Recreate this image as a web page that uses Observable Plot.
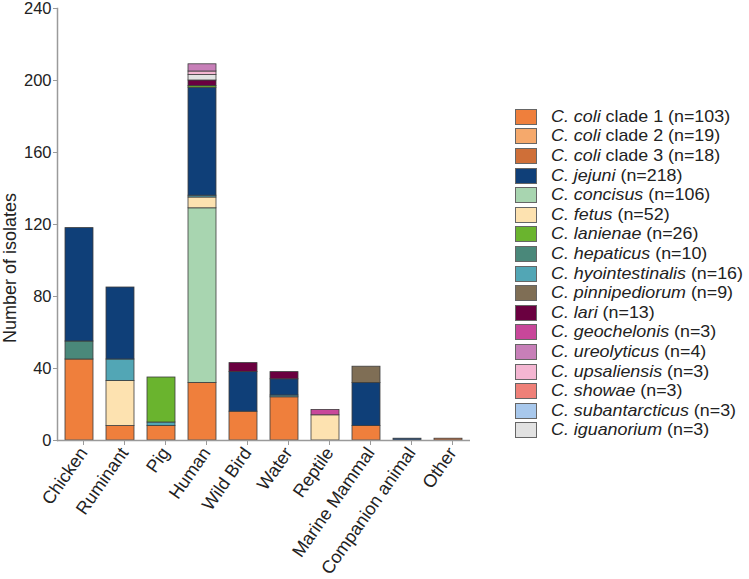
<!DOCTYPE html>
<html><head><meta charset="utf-8">
<script src="https://cdn.jsdelivr.net/npm/d3@7"></script>
<script src="https://cdn.jsdelivr.net/npm/@observablehq/plot@0.6"></script>
<style>
body{margin:0;background:#fff;font-family:"Liberation Sans",Arial,sans-serif;}
#wrap{position:relative;width:749px;height:579px;overflow:hidden;}
#chart{position:absolute;left:0;top:0;}
#legend{position:absolute;left:515px;top:107px;font-size:17px;color:#222;}
.row{display:flex;align-items:center;height:19.6px;white-space:nowrap;}
.sw{width:22px;height:16px;border:1px solid #666;box-sizing:border-box;margin-right:14px;flex:none;}
.lt{display:inline-block;transform:scaleX(1.05);transform-origin:0 50%;}
#ylab{position:absolute;left:10px;top:268px;transform:translate(-50%,-50%) rotate(-90deg);font-size:18px;color:#222;white-space:nowrap;}
</style></head>
<body>
<div id="wrap"><div id="chart"></div><div id="legend"></div><div id="ylab">Number of isolates</div></div>
<script>
const sources = ["Chicken","Ruminant","Pig","Human","Wild Bird","Water","Reptile","Marine Mammal","Companion animal","Other"];
const yTicks = [0,40,80,120,160,200,240];

// legend order
const speciesNames = ["C. coli clade 1","C. coli clade 2","C. coli clade 3","C. jejuni","C. concisus","C. fetus","C. lanienae","C. hepaticus","C. hyointestinalis","C. pinnipediorum","C. lari","C. geochelonis","C. ureolyticus","C. upsaliensis","C. showae","C. subantarcticus","C. iguanorium"];
const speciesCounts = [103,19,18,218,106,52,26,10,16,9,13,3,4,3,3,3,3];
const speciesColors = ["#ef7f3c","#f5a96c","#cf6f38","#0f3f78","#a8d5b0","#fde2b0","#6ab42e","#4a887a","#52a6b5","#7f6e55","#6a0040","#c8479a","#c77fb8","#f4b6d2","#ef8078","#a8c8ec","#e2e2e2"];

// values per source (same order as sources)
const coli1          = [45, 8, 8, 32, 16, 24, 0, 8, 0, 0];
const coli2          = [0, 0, 0, 0, 0, 0, 0, 0, 0, 0];
const coli3          = [0, 0, 0, 0, 0, 0, 0, 0, 0, 1];
const concisus       = [0, 0, 0, 97, 0, 0, 0, 0, 0, 0];
const fetus          = [0, 25, 0, 6, 0, 0, 14, 0, 0, 0];
const hepaticus      = [10, 0, 0, 0, 0, 0, 0, 0, 0, 0];
const hyointestinalis= [0, 12, 2, 1, 0, 1, 0, 0, 0, 0];
const jejuni         = [63, 40, 0, 60, 22, 9, 0, 24, 1, 0];
const lanienae       = [0, 0, 25, 1, 0, 0, 0, 0, 0, 0];
const lari           = [0, 0, 0, 3, 5, 4, 0, 0, 0, 0];
const pinnipediorum  = [0, 0, 0, 0, 0, 0, 0, 9, 0, 0];
const geochelonis    = [0, 0, 0, 0, 0, 0, 3, 0, 0, 0];
const iguanorium     = [0, 0, 0, 3, 0, 0, 0, 0, 0, 0];
const upsaliensis    = [0, 0, 0, 2, 0, 0, 0, 0, 0, 0];
const ureolyticus    = [0, 0, 0, 4, 0, 0, 0, 0, 0, 0];

// stacking order (bottom to top)
const stackSeries = [
  ["C. coli clade 1", coli1], ["C. coli clade 2", coli2], ["C. coli clade 3", coli3],
  ["C. concisus", concisus], ["C. fetus", fetus], ["C. hepaticus", hepaticus],
  ["C. hyointestinalis", hyointestinalis], ["C. jejuni", jejuni], ["C. lanienae", lanienae],
  ["C. lari", lari], ["C. pinnipediorum", pinnipediorum], ["C. geochelonis", geochelonis],
  ["C. iguanorium", iguanorium], ["C. upsaliensis", upsaliensis], ["C. ureolyticus", ureolyticus]
];
const rows = [];
for (const [name, vals] of stackSeries) {
  vals.forEach((v, i) => { if (v > 0) rows.push({source: sources[i], species: name, value: v}); });
}

const plot = Plot.plot({
  width: 480, height: 579,
  marginLeft: 57, marginRight: 10, marginTop: 8, marginBottom: 139,
  style: {fontFamily: '"Liberation Sans", Arial, sans-serif', fontSize: "16px", color: "#222", background: "transparent"},
  x: {domain: sources, paddingInner: 0.32, paddingOuter: 0.17, label: null},
  y: {domain: [0, 240], label: null},
  color: {domain: speciesNames, range: speciesColors},
  marks: [
    Plot.barY(rows, {x: "source", y: "value", fill: "species", stroke: "#3c3c3c", strokeWidth: 0.8}),
    Plot.frame({anchor: "left", stroke: "#9a9a9a", strokeWidth: 1.5}),
    Plot.ruleY([0], {stroke: "#9a9a9a", strokeWidth: 1.5}),
    Plot.axisY({ticks: yTicks, tickSize: 4, tickPadding: 2, stroke: "#9a9a9a", fill: "#222", fontSize: 16.5, label: null}),
    Plot.axisX({tickSize: 5, tickRotate: -55, tickPadding: 4, dx: 4, stroke: "#9a9a9a", fill: "#222", fontSize: 18, label: null})
  ]
});
document.getElementById("chart").appendChild(plot);

const legend = document.getElementById("legend");
speciesNames.forEach((name, i) => {
  const row = document.createElement("div");
  row.className = "row";
  const sw = document.createElement("div");
  sw.className = "sw";
  sw.style.background = speciesColors[i];
  const parts = name.split(" ");
  const italic = parts.slice(0, 2).join(" ");
  const rest = parts.slice(2).join(" ");
  const t = document.createElement("span");
  t.className = "lt";
  t.innerHTML = "<i>" + italic + "</i>" + (rest ? " " + rest : "") + " (n=" + speciesCounts[i] + ")";
  row.appendChild(sw); row.appendChild(t);
  legend.appendChild(row);
});
</script>
</body></html>
